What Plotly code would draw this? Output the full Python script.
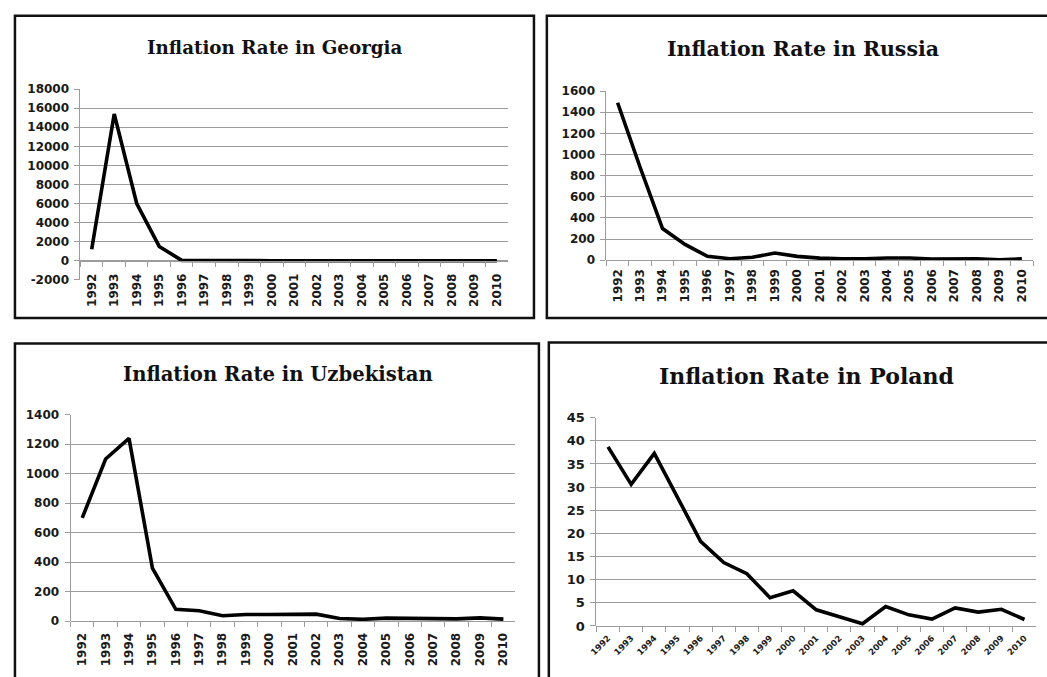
import plotly.graph_objects as go

# Years shown on every category axis
years = [str(y) for y in range(1992, 2011)]

# Annual inflation rate, percent
georgia = [1200, 15400, 6000, 1500, 40, 7, 4, 19, 4, 5, 6, 5, 6, 8, 9, 9, 10, 2, 7]
russia = [1490, 880, 300, 150, 37, 15, 28, 68, 37, 20, 15, 14, 22, 22, 12, 12, 14, 4, 14]
uzbekistan = [700, 1100, 1240, 360, 80, 70, 36, 45, 45, 45, 47, 18, 12, 20, 20, 20, 15, 22, 13]
poland = [38.7, 30.6, 37.3, 28.0, 18.3, 13.7, 11.3, 6.1, 7.6, 3.5, 2.1, 0.5, 4.2, 2.4, 1.5, 3.9, 3.0, 3.6, 1.4]

W, H = 1047, 677


def fx(x):
    return x / W


def fy(y):
    return 1 - y / H


# layout of the four framed charts (pixel geometry)
panels = [
    dict(title="Inflation Rate in Georgia", values=georgia,
         plot=(73, 504, 84, 279), yrange=(-2000, 18000), dtick=2000,
         title_at=(269, 41), title_size=18.3, box=(7, 530, 9, 318),
         tickangle=-90, xfont=12, yfont=12, standoff=7),
    dict(title="Inflation Rate in Russia", values=russia,
         plot=(603, 1033, 86, 259), yrange=(0, 1600), dtick=200,
         title_at=(801, 43), title_size=20.5, box=(543, 1060, 9, 318),
         tickangle=-90, xfont=12, yfont=12, standoff=3),
    dict(title="Inflation Rate in Uzbekistan", values=uzbekistan,
         plot=(63, 511, 417, 628), yrange=(0, 1400), dtick=200,
         title_at=(272, 376), title_size=19.6, box=(7, 535, 344, 690),
         tickangle=-90, xfont=12, yfont=12, standoff=6),
    dict(title="Inflation Rate in Poland", values=poland,
         plot=(593, 1036, 420, 633), yrange=(0, 45), dtick=5,
         title_at=(805, 377), title_size=22, box=(545, 1060, 343, 690),
         tickangle=-45, xfont=8.5, yfont=13, standoff=3),
]

GRID = "#9c9c9c"
TEXT = "#1a1a1a"


def tick_values(lo, hi, step):
    vals = []
    v = lo
    while v <= hi + 1e-9:
        vals.append(v)
        v += step
    return vals


fig = go.Figure()
layout = dict(
    width=W, height=H,
    margin=dict(l=0, r=0, t=0, b=0),
    paper_bgcolor="white", plot_bgcolor="white",
    showlegend=False,
    shapes=[], annotations=[],
)

for i, p in enumerate(panels, start=1):
    sx = "" if i == 1 else str(i)
    x0, x1, ytop, ybot = p["plot"]
    ymin, ymax = p["yrange"]
    zero_px = ybot - (0 - ymin) / (ymax - ymin) * (ybot - ytop)

    fig.add_trace(go.Scatter(
        x=years, y=p["values"], mode="lines",
        line=dict(color="black", width=3.6),
        xaxis="x" + sx, yaxis="y" + sx, hoverinfo="x+y",
    ))

    layout["xaxis" + sx] = dict(
        domain=[fx(x0), fx(x1)],
        anchor="free", position=fy(zero_px),
        type="category", tickson="boundaries",
        ticks="outside", ticklen=5, tickcolor=GRID, tickwidth=1,
        showline=True, linecolor=GRID, linewidth=1,
        showgrid=False, zeroline=False,
        tickangle=p["tickangle"],
        tickfont=dict(family="DejaVu Sans", size=p["xfont"], color=TEXT, weight="bold"),
        ticklabelstandoff=p["standoff"],
        range=[-0.5, len(years) - 0.5],
        fixedrange=True,
    )
    yt = tick_values(ymin, ymax, p["dtick"])
    layout["yaxis" + sx] = dict(
        domain=[fy(ybot), fy(ytop)],
        anchor="x" + sx,
        range=[ymin, ymax],
        tickmode="array", tickvals=yt, ticktext=[str(int(v)) for v in yt],
        ticks="outside", ticklen=5, tickcolor=GRID, tickwidth=1,
        showline=True, linecolor=GRID, linewidth=1,
        showgrid=True, gridcolor=GRID, gridwidth=1,
        zeroline=False,
        tickfont=dict(family="DejaVu Sans", size=p["yfont"], color=TEXT, weight="bold"),
        ticklabelstandoff=3,
        fixedrange=True,
    )

    bx0, bx1, by0, by1 = p["box"]
    layout["shapes"].append(dict(
        type="rect", xref="paper", yref="paper",
        x0=fx(bx0), x1=fx(bx1), y0=fy(by1), y1=fy(by0),
        line=dict(color="#111111", width=2.5), layer="above",
    ))

    tx, ty = p["title_at"]
    layout["annotations"].append(dict(
        text=p["title"], xref="paper", yref="paper",
        x=fx(tx), y=fy(ty), xanchor="center", yanchor="middle",
        showarrow=False,
        font=dict(family="DejaVu Serif", size=p["title_size"], color="#111111", weight="bold"),
    ))

fig.update_layout(**layout)
fig.write_html("out.html")
